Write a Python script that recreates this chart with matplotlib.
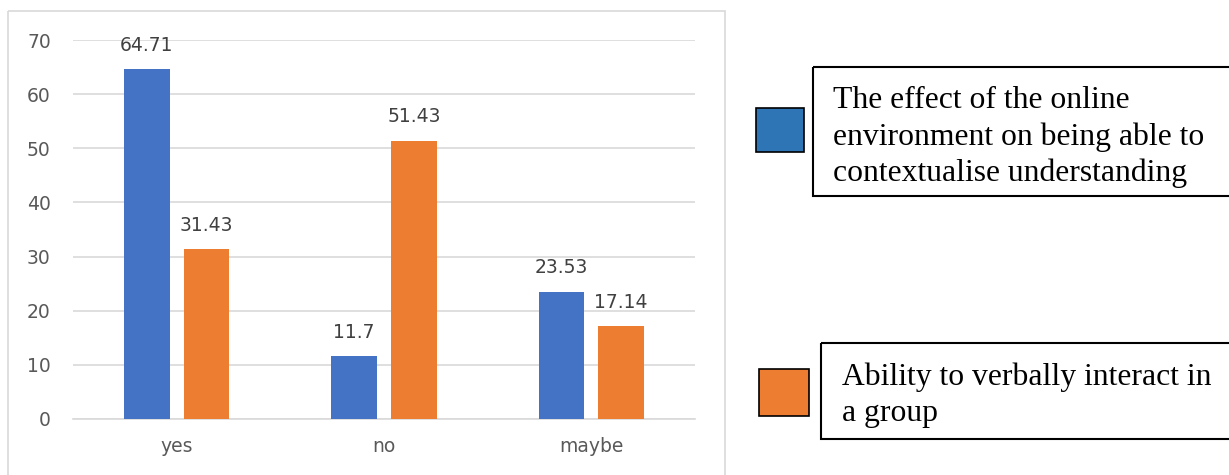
import numpy as np
import matplotlib.pyplot as plt
from matplotlib.patches import Rectangle

categories = ['yes', 'no', 'maybe']
contextualise = [64.71, 11.7, 23.53]
verbal = [31.43, 51.43, 17.14]
series_names = ['The effect of the online\nenvironment on being able to\ncontextualise understanding',
                'Ability to verbally interact in\na group']
y_ticks = [0, 10, 20, 30, 40, 50, 60, 70]

BLUE = '#4472C4'
ORANGE = '#ED7D31'
W, H = 1229, 475

fig = plt.figure(figsize=(W / 100, H / 100), dpi=100)

# overlay in pixel coordinates for the chart frame and the legend boxes
bg = fig.add_axes([0, 0, 1, 1])
bg.set_xlim(0, W)
bg.set_ylim(H, 0)
bg.axis('off')
bg.add_patch(Rectangle((8, 11), 717, 480, fill=False, edgecolor='#D9D9D9', lw=1.2))

# bar chart
ax = fig.add_axes([73 / W, 1 - 419 / H, (695 - 73) / W, (419 - 40) / H])
x = np.arange(len(categories))
width = 0.22
offset = 0.144
b1 = ax.bar(x - offset, contextualise, width, color=BLUE, zorder=3)
b2 = ax.bar(x + offset, verbal, width, color=ORANGE, zorder=3)

for bars, vals in [(b1, contextualise), (b2, verbal)]:
    for rect, v in zip(bars, vals):
        ax.annotate(f'{v:g}', (rect.get_x() + rect.get_width() / 2, v),
                    xytext=(0, 17), textcoords='offset points',
                    ha='center', va='center', fontsize=13.5, color='#404040')

ax.set_xlim(-0.5, 2.5)
ax.set_ylim(0, 70)
ax.set_yticks(y_ticks)
ax.set_xticks(x)
ax.set_xticklabels(categories)
ax.yaxis.grid(True, color='#D9D9D9', lw=1.2, zorder=0)
ax.tick_params(axis='both', length=0, labelsize=13.5, labelcolor='#595959')
ax.tick_params(axis='y', pad=16)
ax.tick_params(axis='x', pad=13)
for s in ['top', 'right', 'left']:
    ax.spines[s].set_visible(False)
ax.spines['bottom'].set_color('#D9D9D9')
ax.spines['bottom'].set_linewidth(1.2)

# legend drawn as separate boxes
bg.add_patch(Rectangle((756, 108), 48, 44, facecolor='#2E75B6', edgecolor='black', lw=1.2))
bg.add_patch(Rectangle((813, 67), 430, 129, fill=False, edgecolor='black', lw=1.5))
bg.text(833, 137, series_names[0], family='Liberation Serif', fontsize=22.8,
        va='center', ha='left', linespacing=1.3, color='black')

bg.add_patch(Rectangle((759, 369), 50, 47, facecolor=ORANGE, edgecolor='black', lw=1.2))
bg.add_patch(Rectangle((821, 343), 430, 96, fill=False, edgecolor='black', lw=1.5))
bg.text(842, 395, series_names[1], family='Liberation Serif', fontsize=22.8,
        va='center', ha='left', linespacing=1.3, color='black')

fig.savefig('out.png', dpi=100)
